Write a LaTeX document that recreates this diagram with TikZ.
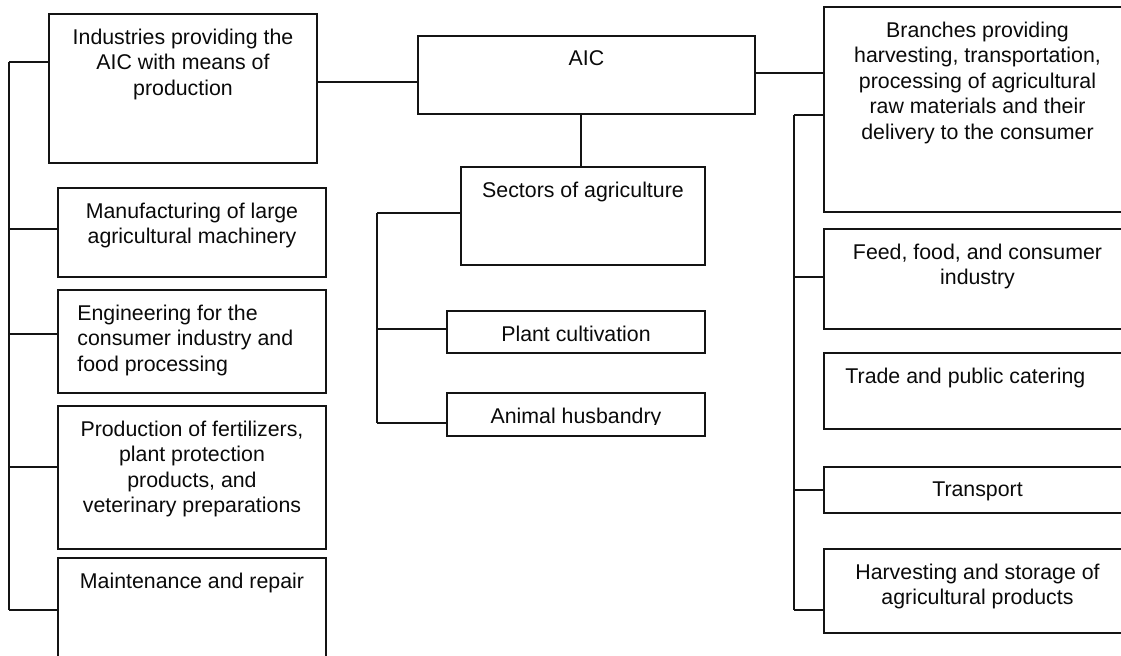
\documentclass[tikz,border=0pt]{standalone}
\usepackage{fontspec}
\setmainfont{Liberation Sans}
\usetikzlibrary{positioning,fit}
\definecolor{AicLine}{RGB}{20,20,20}
\definecolor{AicText}{RGB}{10,10,10}
\tikzset{
  aic/frame/.style={
    draw=AicLine,
    line width=1.3pt,
    rectangle,
    inner sep=0pt
  },
  aic/text/.style={
    inner sep=0pt,
    align=center,
    text=AicText,
    font=\fontsize{16}{19.2}\selectfont
  },
  aic/link/.style={draw=AicLine, line width=1.3pt}
}

\begin{document}
\begin{tikzpicture}[x=0.75pt,y=-0.75pt]
  \clip (0,0) rectangle (1121,656);
  \fill[white] (0,0) rectangle (1121,656);

  % frames
  \node[aic/frame,fit={(49,14) (317,163)}] (ind) {};
  \node[aic/frame,fit={(58,188) (326,277)}] (manuf) {};
  \node[aic/frame,fit={(58,290) (326,393)}] (eng) {};
  \node[aic/frame,fit={(58,406) (326,549)}] (prod) {};
  \node[aic/frame,fit={(58,558) (326,690)}] (maint) {};
  \node[aic/frame,fit={(418,36) (755,114)}] (aic) {};
  \node[aic/frame,fit={(461,167) (705,265)}] (sect) {};
  \node[aic/frame,fit={(447,311) (705,353)}] (plant) {};
  \node[aic/frame,fit={(447,393) (705,436)}] (animal) {};
  \node[aic/frame,fit={(824,7) (1131,212)}] (branch) {};
  \node[aic/frame,fit={(824,229) (1131,329)}] (feed) {};
  \node[aic/frame,fit={(824,353) (1131,429)}] (trade) {};
  \node[aic/frame,fit={(824,467) (1131,513)}] (transp) {};
  \node[aic/frame,fit={(824,549) (1131,633)}] (harv) {};

  % texts
  \node[aic/text,below=11.4pt of ind.north] (ind-t) {Industries providing the\\AIC with means of\\production};
  \node[aic/text,below=11.4pt of manuf.north] (manuf-t) {Manufacturing of large\\agricultural machinery};
  \node[aic/text,align=left,below right=11.4pt and 15pt of eng.north west] (eng-t) {Engineering for the\\consumer industry and\\food processing};
  \node[aic/text,below=11.4pt of prod.north] (prod-t) {Production of fertilizers,\\plant protection\\products, and\\veterinary preparations};
  \node[aic/text,below=11.4pt of maint.north] (maint-t) {Maintenance and repair};
  \node[aic/text,below=11.4pt of aic.north] (aic-t) {AIC};
  \node[aic/text,below=11.4pt of sect.north] (sect-t) {Sectors of agriculture};
  \node[aic/text,below=11.4pt of plant.north] (plant-t) {Plant cultivation};
  \begin{scope}
    \clip (447,393) rectangle (705,424);
    \node[aic/text,below=11.4pt of animal.north] (animal-t) {Animal husbandry};
  \end{scope}
  \node[aic/text,below=11.4pt of branch.north] (branch-t) {Branches providing\\harvesting, transportation,\\processing of agricultural\\raw materials and their\\delivery to the consumer};
  \node[aic/text,below=11.4pt of feed.north] (feed-t) {Feed, food, and consumer\\industry};
  \node[aic/text,below right=11.4pt and 16.5pt of trade.north west] (trade-t) {Trade and public catering};
  \node[aic/text,below=11.4pt of transp.north] (transp-t) {Transport};
  \node[aic/text,below=11.4pt of harv.north] (harv-t) {Harvesting and storage of\\agricultural products};

  % main links
  \draw[aic/link] (ind.east |- 0,82) -- (aic.west |- 0,82);
  \draw[aic/link] (aic.east |- 0,73) -- (branch.west |- 0,73);
  \draw[aic/link] (aic.south -| 581,0) -- (sect.north -| 581,0);

  % left spine
  \draw[aic/link] (9,62) -- (9,610);
  \foreach \n/\y in {ind/62,manuf/229,eng/334,prod/467,maint/610}
    \draw[aic/link] (9,\y) -- (\n.west |- 0,\y);

  % centre spine
  \draw[aic/link] (377,213) -- (377,423);
  \foreach \n/\y in {sect/213,plant/329,animal/423}
    \draw[aic/link] (377,\y) -- (\n.west |- 0,\y);

  % right spine
  \draw[aic/link] (794,115) -- (794,610);
  \foreach \n/\y in {branch/115,feed/277,transp/490,harv/610}
    \draw[aic/link] (794,\y) -- (\n.west |- 0,\y);
\end{tikzpicture}
\end{document}
